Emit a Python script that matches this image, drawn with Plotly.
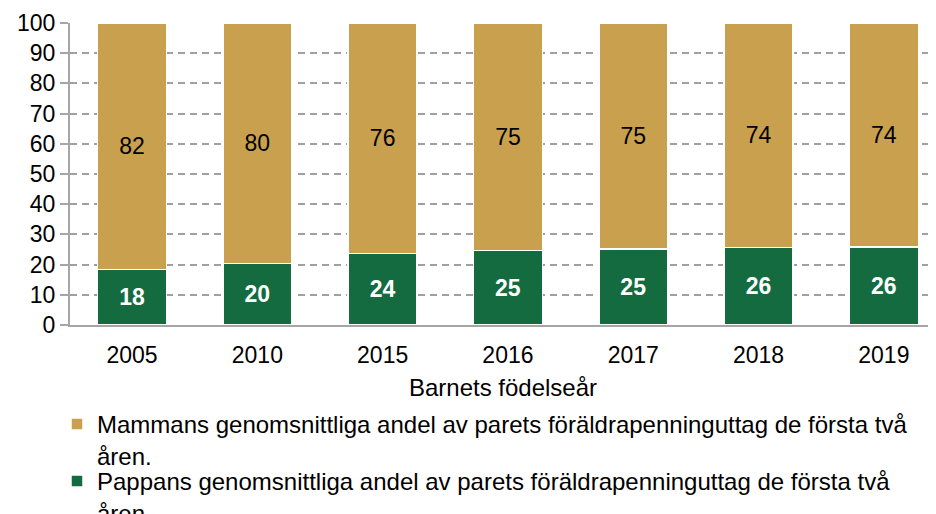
import plotly.graph_objects as go

years = ["2005", "2010", "2015", "2016", "2017", "2018", "2019"]
pappa = [18.4, 20.3, 23.6, 24.7, 25.1, 25.6, 25.8]
mamma = [81.6, 79.7, 76.4, 75.3, 74.9, 74.4, 74.2]
pappa_labels = ["18", "20", "24", "25", "25", "26", "26"]
mamma_labels = ["82", "80", "76", "75", "75", "74", "74"]
name_mamma = "Mammans genomsnittliga andel av parets föräldrapenninguttag de första två<br>åren."
name_pappa = "Pappans genomsnittliga andel av parets föräldrapenninguttag de första två<br>åren."

GOLD = "#C9A14E"
GREEN = "#146B3F"
FONT = "Liberation Sans, Arial, sans-serif"
OFF = 8  # page body margin
W, H = 936 - OFF, 514 - OFF

fig = go.Figure()
fig.add_trace(go.Bar(
    x=years, y=pappa, name=name_pappa, text=pappa_labels, legend="legend2",
    marker=dict(color=GREEN, line=dict(color="white", width=1.5)),
    textposition="inside", insidetextanchor="middle",
    textfont=dict(color="white", size=23, family=FONT, weight="bold"),
    width=0.55,
))
fig.add_trace(go.Bar(
    x=years, y=mamma, name=name_mamma, text=mamma_labels, legend="legend",
    marker=dict(color=GOLD, line=dict(color="white", width=1.5)),
    textposition="inside", insidetextanchor="middle",
    textfont=dict(color="black", size=23, family=FONT),
    width=0.55,
))

leg_common = dict(
    orientation="v", xref="container", yref="container",
    xanchor="left", yanchor="top", valign="top",
    font=dict(size=24, family=FONT, color="black"),
    tracegroupgap=0, itemwidth=30, bgcolor="rgba(0,0,0,0)",
)

fig.update_layout(
    barmode="stack",
    width=W, height=H,
    margin=dict(l=70 - OFF, r=0, t=23 - OFF, b=514 - 325, autoexpand=False),
    paper_bgcolor="white", plot_bgcolor="white",
    font=dict(family=FONT, size=20, color="black"),
    showlegend=True,
    legend=dict(x=49 / W, y=1 - 394 / H, **leg_common),
    legend2=dict(x=49 / W, y=1 - 451 / H, **leg_common),
    xaxis=dict(
        type="category", range=[-0.495, 6.416],
        showline=True, linecolor="#A6A6A6", linewidth=2,
        showgrid=False, ticks="", ticklabelstandoff=8,
        tickfont=dict(size=23), tickangle=0,
        title=dict(text="Barnets födelseår", font=dict(size=24), standoff=13),
    ),
    yaxis=dict(
        range=[0, 100], dtick=10,
        showline=True, linecolor="#A6A6A6", linewidth=2,
        ticks="outside", ticklen=8, tickcolor="#A6A6A6", tickwidth=2,
        showgrid=True, gridcolor="#A0A0A0", gridwidth=2, griddash="7px,5px",
        tickfont=dict(size=23),
        zeroline=False,
    ),
)

fig.write_html("out.html")
